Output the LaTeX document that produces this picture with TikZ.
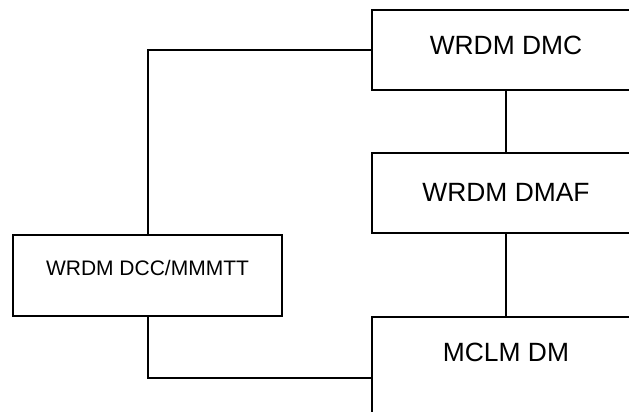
\documentclass[tikz,border=0pt]{standalone}
\usepackage{fontspec}
\setmainfont{Liberation Sans}
\usepackage{tikz}
\usetikzlibrary{positioning,calc}
\tikzset{
  unitbox/.style={draw, rectangle, line width=2pt, minimum width=268pt, minimum height=80pt, inner sep=0pt},
  bigtext/.style={font=\fontsize{26.4}{30}\selectfont},
  smalltext/.style={font=\fontsize{21}{25}\selectfont},
  link/.style={line width=2pt}
}
\begin{document}
\begin{tikzpicture}[x=1pt, y=-1pt]
  \useasboundingbox (0,0) rectangle (629,412);
  \clip (0,0) rectangle (629,412);
  \node[unitbox, label={[bigtext, yshift=5pt]center:WRDM DMC}] (dmc) at (506,50) {};
  \node[unitbox, label={[bigtext, yshift=1pt]center:WRDM DMAF}] (dmaf) at (506,193) {};
  \node[unitbox, minimum width=269pt, minimum height=81pt, label={[smalltext, yshift=8pt]center:WRDM DCC/MMMTT}] (dcc) at (147.5,275.5) {};
  \node[unitbox, minimum height=122pt, label={[bigtext, yshift=26pt]center:MCLM DM}] (mclm) at (506,378) {};
  \draw[link] (dmc.west) -| (dcc.north);
  \draw[link] (dmc.south) -- (dmaf.north);
  \draw[link] (dmaf.south) -- (mclm.north);
  \draw[link] (dcc.south) |- (mclm.west);
\end{tikzpicture}
\end{document}
